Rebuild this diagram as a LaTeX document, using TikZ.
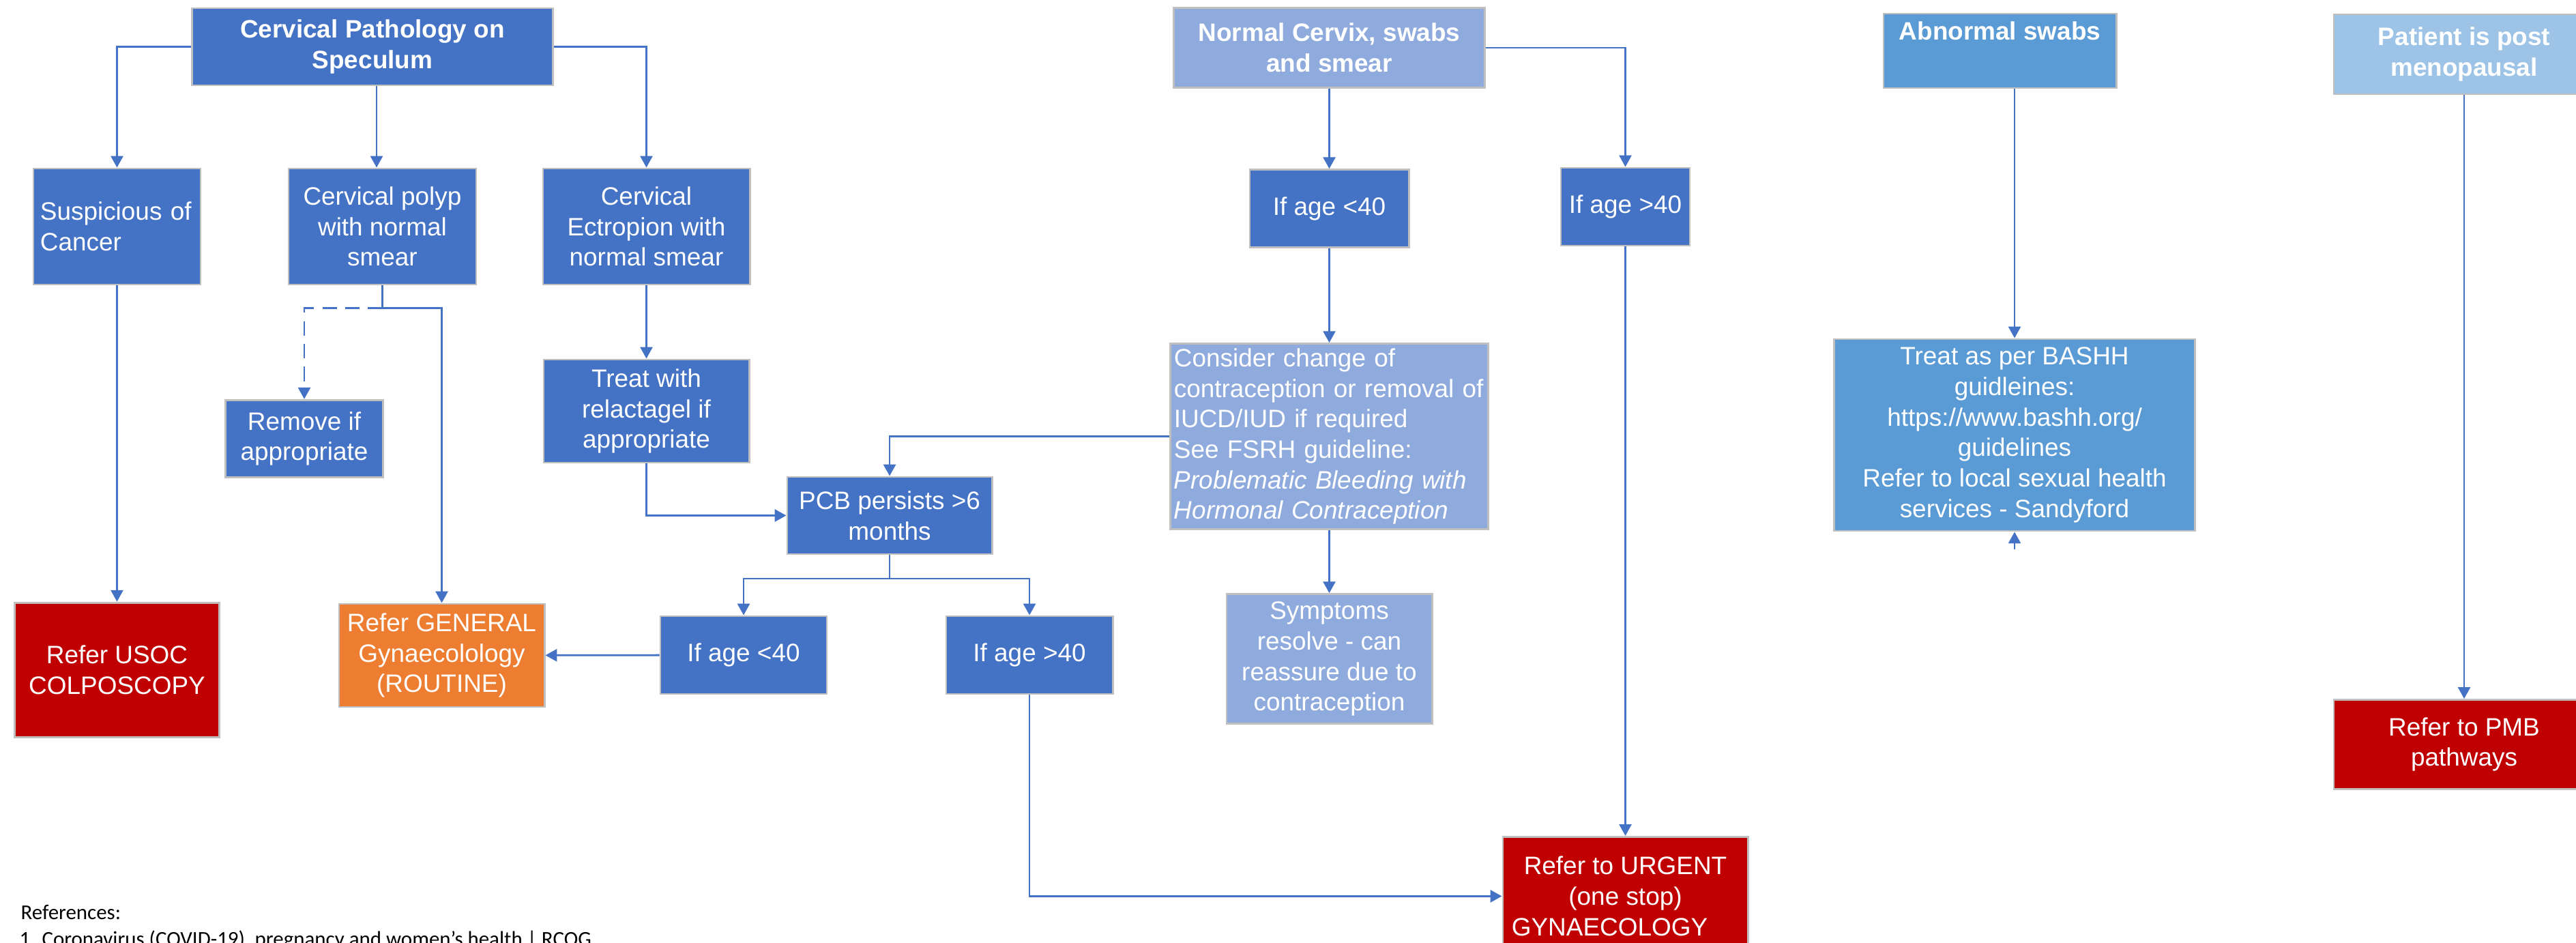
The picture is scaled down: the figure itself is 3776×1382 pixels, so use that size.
\documentclass[tikz,border=0pt]{standalone}
\usepackage{fontspec}
\setmainfont{Liberation Sans}
\newfontfamily\reffont{Carlito}
\usepackage{xcolor}
\usetikzlibrary{positioning,arrows.meta}

\definecolor{darkblue}{HTML}{4472C4}
\definecolor{paleblue}{HTML}{8FAADC}
\definecolor{midblue}{HTML}{5B9BD5}
\definecolor{skyblue}{HTML}{9DC3E6}
\definecolor{urgentred}{HTML}{C00000}
\definecolor{routineorange}{HTML}{ED7D31}
\definecolor{edgegray}{HTML}{BFBFBF}

\newcommand{\boxfont}{\fontsize{10.5}{12.7}\selectfont}

\begin{document}
\begin{tikzpicture}[
  x=0.01cm, y=-0.01cm,
  box/.style={rectangle, draw=edgegray, line width=0.8pt, text=white, align=center, font=\boxfont, inner sep=0.05cm},
  darkbox/.style={box, fill=darkblue},
  palebox/.style={box, fill=paleblue},
  midbox/.style={box, fill=midblue},
  skybox/.style={box, fill=skyblue},
  redbox/.style={box, fill=urgentred},
  orangebox/.style={box, fill=routineorange},
  conn/.style={draw=darkblue, line width=0.8pt},
  arrow/.style={conn, -{Triangle[length=4.8pt, width=5.1pt]}},
  reftext/.style={font=\reffont\fontsize{8.8}{11}\selectfont, inner sep=0pt}
]
\useasboundingbox (0,0) rectangle (3776,1382);

% Cervical pathology branch
\node[darkbox, font=\boxfont\bfseries, minimum width=5.28cm, minimum height=1.13cm] (cps) at (546,68.5) {Cervical Pathology on\\Speculum};
\node[darkbox, align=left, text width=2.25cm, inner xsep=0.1cm, minimum height=1.70cm] (susp) at (171.5,332) {Suspicious of\\Cancer};
\node[darkbox, minimum width=2.75cm, minimum height=1.70cm] (polyp) at (560.5,332) {Cervical polyp\\with normal\\smear};
\node[darkbox, minimum width=3.03cm, minimum height=1.70cm] (ectr) at (947.5,332) {Cervical\\Ectropion with\\normal smear};
\node[darkbox, minimum width=2.315cm, minimum height=1.135cm] (remove) at (446,643) {Remove if\\appropriate};
\node[darkbox, minimum width=3.01cm, minimum height=1.51cm, below=1.07cm of ectr] (treat) {Treat with\\relactagel if\\appropriate};
\node[redbox, minimum width=3.00cm, minimum height=1.97cm, below=4.63cm of susp] (usoc) {Refer USOC\\COLPOSCOPY};
\node[orangebox, minimum width=3.01cm, minimum height=1.51cm] (general) at (647.5,960.5) {Refer GENERAL\\Gynaecolology\\(ROUTINE)};
\node[darkbox, minimum width=3.00cm, minimum height=1.13cm] (pcb) at (1304,755.5) {PCB persists >6\\months};
\node[darkbox, minimum width=2.44cm, minimum height=1.14cm] (young2) at (1090,960) {If age <40};
\node[darkbox, minimum width=2.44cm, minimum height=1.14cm, right=1.72cm of young2] (old2) {If age >40};

% Normal cervix branch
\node[palebox, font=\boxfont\bfseries, minimum width=4.55cm, minimum height=1.175cm] (normal) at (1948.5,70) {Normal Cervix, swabs\\and smear};
\node[darkbox, minimum width=2.33cm, minimum height=1.14cm, below=1.17cm of normal] (young1) {If age <40};
\node[darkbox, minimum width=1.89cm, minimum height=1.14cm] (old1) at (2382.5,303) {If age >40};
\node[palebox, align=left, text width=4.55cm, inner xsep=0.05cm, inner ysep=0.02cm, minimum height=2.72cm, below=1.38cm of young1] (consider) {Consider change of\\contraception or removal of\\IUCD/IUD if required\\See FSRH guideline:\\\textit{Problematic Bleeding with}\\\textit{Hormonal Contraception}};
\node[palebox, minimum width=3.01cm, minimum height=1.90cm, below=0.92cm of consider] (symptoms) {Symptoms\\resolve - can\\reassure due to\\contraception};
\node[redbox, minimum width=3.59cm, minimum height=1.74cm, below=8.63cm of old1] (urgent) {Refer to URGENT\\(one stop)\\GYNAECOLOGY\hspace*{0.46cm}};

% Abnormal swabs and post menopausal
\node[midbox, font=\boxfont\bfseries, minimum width=3.41cm, minimum height=1.09cm] (abn) at (2931.5,74.5) {Abnormal swabs\\\strut};
\node[midbox, minimum width=5.28cm, minimum height=2.81cm] (bashh) at (2953,637.5) {Treat as per BASHH\\guidleines:\\https://www.bashh.org/\\guidelines\\Refer to local sexual health\\services - Sandyford};
\node[skybox, font=\boxfont\bfseries, minimum width=3.82cm, minimum height=1.17cm] (post) at (3612,79.5) {Patient is post\\menopausal};
\node[redbox, minimum width=3.82cm, minimum height=1.31cm, below=8.84cm of post] (pmb) {Refer to PMB\\pathways};

% References
\node[reftext, anchor=base west] (refhead) at (30,1347) {References:};
\node[reftext, anchor=base west] (refitem) at (28,1386) {1. Coronavirus (COVID-19), pregnancy and women’s health | RCOG};

% Connectors
\draw[arrow] (cps.west) -| (susp.north);
\draw[arrow] ([xshift=0.06cm]cps.south) -- ([xshift=0.06cm]cps.south |- polyp.north);
\draw[arrow] (cps.east) -| (ectr.north);
\draw[arrow] (susp) -- (usoc);
\coordinate[below=0.33cm of polyp.south] (polypj);
\draw[conn] (polyp.south) -- (polypj);
\draw[arrow, dash pattern=on 6pt off 3.5pt] (polypj) -| (remove.north);
\draw[arrow] (polypj) -| (general.north);
\draw[arrow] (ectr) -- (treat);
\draw[arrow] (treat.south) |- (pcb.west);
\draw[arrow] (consider.west) -| (pcb.north);
\coordinate[below=0.345cm of pcb.south] (pcbj);
\draw[conn] (pcb.south) -- (pcbj);
\draw[arrow] (pcbj) -| (young2.north);
\draw[arrow] (pcbj) -| (old2.north);
\draw[arrow] (young2) -- (general);
\draw[arrow] (old2.south) |- (urgent.west);

\draw[arrow] (normal) -- (young1);
\draw[arrow] (normal.east) -| (old1.north);
\draw[arrow] (young1) -- (consider);
\draw[arrow] (consider) -- (symptoms);
\draw[arrow] (old1) -- (urgent);

\draw[arrow] (bashh.north |- abn.south) -- (bashh.north);
\coordinate[below=0.25cm of bashh.south] (bashhstub);
\draw[arrow] (bashhstub) -- (bashh.south);
\draw[arrow] (post) -- (pmb);
\end{tikzpicture}
\end{document}
